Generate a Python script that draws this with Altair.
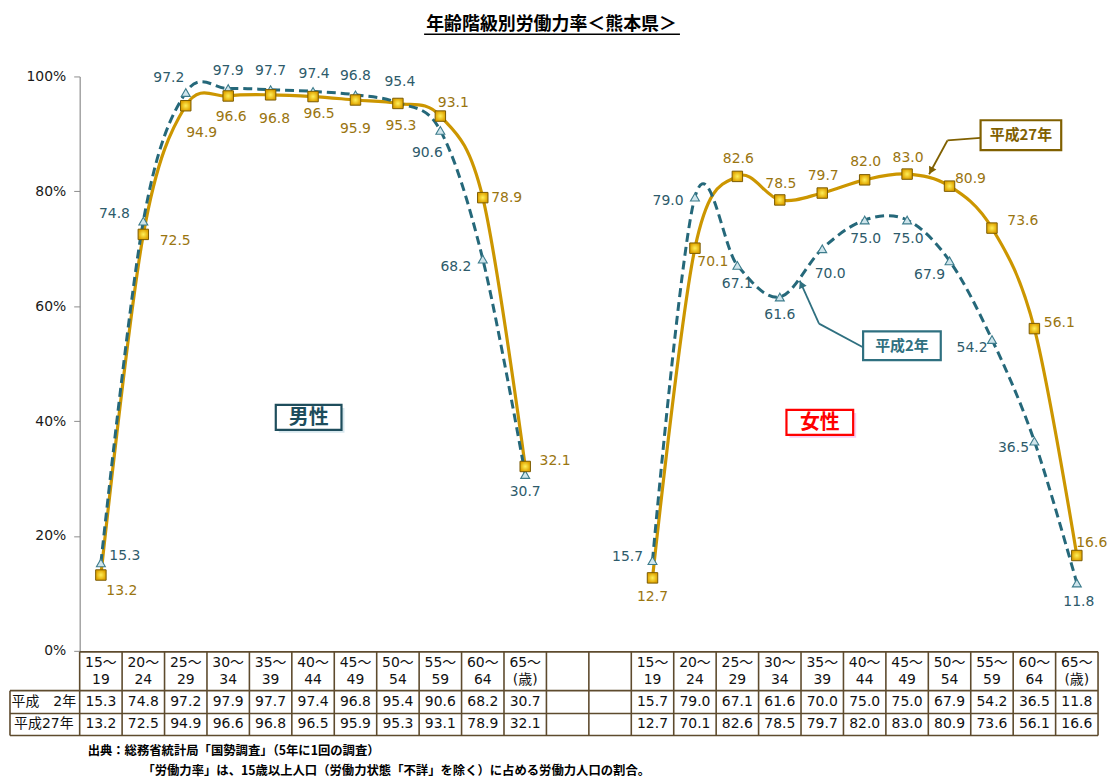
import altair as alt
import pandas as pd

# ---------------- data ----------------
age_top = ["15～", "20～", "25～", "30～", "35～", "40～", "45～", "50～", "55～", "60～", "65～"]
age_bottom = ["19", "24", "29", "34", "39", "44", "49", "54", "59", "64", "(歳)"]
male_h2 = [15.3, 74.8, 97.2, 97.9, 97.7, 97.4, 96.8, 95.4, 90.6, 68.2, 30.7]
male_h27 = [13.2, 72.5, 94.9, 96.6, 96.8, 96.5, 95.9, 95.3, 93.1, 78.9, 32.1]
female_h2 = [15.7, 79.0, 67.1, 61.6, 70.0, 75.0, 75.0, 67.9, 54.2, 36.5, 11.8]
female_h27 = [12.7, 70.1, 82.6, 78.5, 79.7, 82.0, 83.0, 80.9, 73.6, 56.1, 16.6]
row_labels = ["平成\u30002年", "平成27年"]
sex_labels = ["男性", "女性"]
callouts = ["平成27年", "平成2年"]
y_ticks = [0, 20, 40, 60, 80, 100]
title_text = "年齢階級別労働力率＜熊本県＞"
note1 = "出典：総務省統計局「国勢調査」（5年に1回の調査）"
note2 = "「労働力率」は、15歳以上人口（労働力状態「不詳」を除く）に占める労働力人口の割合。"

# ---------------- layout (pixels, relative to plot origin) ----------------
W, H = 1023, 577
NC = 24          # table columns (11 male + 2 blank + 11 female)
F0 = 13          # first female column
PX = W / NC
PY = H / 100.0


def xv(px):
    return px / PX


def yv(py):
    return 100.0 - py / PY


# data-label offsets (dx, dy) in pixels
off_m_h2 = [(24, -7), (-29, -7), (-17, -15), (0, -18), (0, -19), (1, -17), (0, -19), (2, -21), (-13, 23), (-27, 8), (0, 18)]
off_m_h27 = [(21, 16), (32, 7), (16, 27), (3, 21), (4, 24), (6, 18), (0, 29), (3, 23), (13, -13), (24, 0), (30, -5)]
off_f_h2 = [(-25, -4), (-27, 4), (0, 19), (0, 18), (8, 25), (1, 19), (1, 19), (-20, 14), (-20, 9), (-21, 7), (2, 19)]
off_f_h27 = [(0, 19), (18, 14), (1, -17), (1, -16), (1, -17), (1, -18), (1, -16), (21, -7), (31, -7), (25, -6), (15, -13)]

GOLD = "#CC9600"
GOLD_TXT = "#9A7510"
GOLD_DARK = "#806000"
TEAL = "#25687A"
TEAL_TXT = "#2E5B6B"
TEAL_BOX = "#2F7080"
GRID = "#5E4B2E"
NUMFONT = "DejaVu Sans, Noto Sans CJK JP"
JPFONT = "Noto Sans CJK JP"

# ---------------- frames ----------------
rows = []
for sex, start, h2, h27, o2, o27 in [
    ("M", 0, male_h2, male_h27, off_m_h2, off_m_h27),
    ("F", F0, female_h2, female_h27, off_f_h2, off_f_h27),
]:
    for i in range(11):
        x = start + i + 0.5
        for ser, vals, offs in (("H2", h2, o2), ("H27", h27, o27)):
            v = vals[i]
            rows.append(dict(sex=sex, series=ser, x=x, y=v,
                             lx=x + offs[i][0] / PX, ly=v - offs[i][1] / PY,
                             t=f"{v:.1f}"))
pts = pd.DataFrame(rows)
h2 = pts[pts.series == "H2"]
h27 = pts[pts.series == "H27"]

# table texts
trows = []
for start, vals2, vals27 in [(0, male_h2, male_h27), (F0, female_h2, female_h27)]:
    for i in range(11):
        x = start + i + 0.5
        trows.append(dict(x=x, y=yv(589), t=age_top[i]))
        trows.append(dict(x=x, y=yv(606), t=age_bottom[i]))
        trows.append(dict(x=x, y=yv(628.5), t=f"{vals2[i]:.1f}"))
        trows.append(dict(x=x, y=yv(651), t=f"{vals27[i]:.1f}"))
ttext = pd.DataFrame(trows)
rlab = pd.DataFrame(dict(x=[xv(-36)] * 2, y=[yv(628.5), yv(651)], t=row_labels))

LBL = xv(-70)
hlines = pd.DataFrame(dict(
    x=[0, LBL, LBL, LBL], x2=[NC] * 4,
    y=[yv(578), yv(617), yv(640), yv(662)]))
vl_x = list(range(NC + 1)) + [LBL]
vl_y = [yv(578)] * (NC + 1) + [yv(617)]
vlines = pd.DataFrame(dict(x=vl_x, y=vl_y, y2=[yv(662)] * len(vl_x)))

xs = alt.Scale(domain=[0, NC], nice=False, zero=False)
ys = alt.Scale(domain=[0, 100], nice=False, zero=False)
yaxis = alt.Axis(values=y_ticks, labelExpr="datum.value + '%'", grid=False, title=None,
                 domainColor="#8c8c8c", tickColor="#8c8c8c", tickSize=6, domainWidth=1.2,
                 labelFont="DejaVu Sans", labelFontSize=14, labelColor="#1a1a1a", labelPadding=8)


def X(f):
    return alt.X(f"{f}:Q", scale=xs, axis=None)


def Y(f):
    return alt.Y(f"{f}:Q", scale=ys, axis=yaxis)


layers = []

# lines
layers.append(alt.Chart(h27).mark_line(interpolate="cardinal", color=GOLD, strokeWidth=3.2)
              .encode(x=X("x"), y=Y("y"), detail="sex:N"))
layers.append(alt.Chart(h2).mark_line(interpolate="cardinal", color=TEAL, strokeWidth=3,
                                      strokeDash=[9, 5])
              .encode(x=X("x"), y=Y("y"), detail="sex:N"))

# markers
layers.append(alt.Chart(h2).mark_point(shape="triangle-up", filled=True, fill="#CFE5EC",
                                       stroke="#3D7C8C", strokeWidth=1.1, size=80, opacity=1)
              .encode(x=X("x"), y=Y("y")))
layers.append(alt.Chart(h27).mark_square(size=110, opacity=1, stroke="#7A5A00", strokeWidth=1,
                                         fill={"gradient": "radial",
                                               "stops": [{"offset": 0, "color": "#FFF15A"},
                                                         {"offset": 1, "color": "#E0A400"}]})
              .encode(x=X("x"), y=Y("y")))

# data labels
layers.append(alt.Chart(h2).mark_text(font="DejaVu Sans", fontSize=14, color=TEAL_TXT)
              .encode(x=X("lx"), y=Y("ly"), text="t:N"))
layers.append(alt.Chart(h27).mark_text(font="DejaVu Sans", fontSize=14, color=GOLD_TXT)
              .encode(x=X("lx"), y=Y("ly"), text="t:N"))

# table
layers.append(alt.Chart(hlines).mark_rule(color=GRID, strokeWidth=1.6)
              .encode(x=X("x"), x2=alt.X2("x2"), y=Y("y")))
layers.append(alt.Chart(vlines).mark_rule(color=GRID, strokeWidth=1.6)
              .encode(x=X("x"), y=Y("y"), y2=alt.Y2("y2")))
layers.append(alt.Chart(ttext).mark_text(font=NUMFONT, fontSize=14, color="#111111")
              .encode(x=X("x"), y=Y("y"), text="t:N"))
layers.append(alt.Chart(rlab).mark_text(font=NUMFONT, fontSize=14, color="#111111")
              .encode(x=X("x"), y=Y("y"), text="t:N"))

# sex boxes
sexbox = pd.DataFrame(dict(
    x=[xv(197), xv(710)], x2=[xv(263), xv(777)],
    y=[yv(330), yv(335)], y2=[yv(355), yv(360)],
    sx=[xv(200), xv(713)], sx2=[xv(266), xv(780)],
    sy=[yv(333), yv(338)], sy2=[yv(358), yv(363)],
    tx=[xv(230), xv(743.5)], ty=[yv(343), yv(348)],
    t=sex_labels, c=["#1E4D5C", "#FF0000"], sc=["#D3E4EB", "#F6C9F2"]))
layers.append(alt.Chart(sexbox).mark_rect(opacity=0.9)
              .encode(x=X("sx"), x2=alt.X2("sx2"), y=Y("sy"), y2=alt.Y2("sy2"),
                      fill=alt.Fill("sc:N", scale=None)))
layers.append(alt.Chart(sexbox).mark_rect(fill="white", strokeWidth=2.2)
              .encode(x=X("x"), x2=alt.X2("x2"), y=Y("y"), y2=alt.Y2("y2"),
                      stroke=alt.Stroke("c:N", scale=None)))
layers.append(alt.Chart(sexbox).mark_text(font=JPFONT, fontSize=20, fontWeight="bold")
              .encode(x=X("tx"), y=Y("ty"), text="t:N", color=alt.Color("c:N", scale=None)))

# callouts
cb = pd.DataFrame(dict(
    x=[xv(905), xv(787)], x2=[xv(986), xv(865)],
    y=[yv(44), yv(256)], y2=[yv(74), yv(285)],
    tx=[xv(945.5), xv(826)], ty=[yv(59), yv(270.5)],
    t=callouts, c=[GOLD_DARK, TEAL_BOX]))
segs = pd.DataFrame(dict(
    x=[xv(905), xv(871.7), xv(787.3), xv(742.7)],
    x2=[xv(871.7), xv(853.3), xv(742.7), xv(723.3)],
    y=[yv(61.7), yv(64.3), yv(272.3), yv(248.3)],
    y2=[yv(64.3), yv(98.3), yv(248.3), yv(205)],
    c=[GOLD_DARK, GOLD_DARK, TEAL_BOX, TEAL_BOX]))
heads = pd.DataFrame(dict(x=[xv(855.2), xv(725)], y=[yv(94.8), yv(208.7)],
                          a=[208.4, 335.9], c=[GOLD_DARK, TEAL_BOX]))
layers.append(alt.Chart(segs).mark_rule(strokeWidth=1.8)
              .encode(x=X("x"), x2=alt.X2("x2"), y=Y("y"), y2=alt.Y2("y2"),
                      color=alt.Color("c:N", scale=None)))
layers.append(alt.Chart(heads).mark_point(shape="triangle-up", filled=True, size=70, opacity=1)
              .encode(x=X("x"), y=Y("y"), angle=alt.Angle("a:Q", scale=None),
                      color=alt.Color("c:N", scale=None)))
layers.append(alt.Chart(cb).mark_rect(fill="white", strokeWidth=2.2)
              .encode(x=X("x"), x2=alt.X2("x2"), y=Y("y"), y2=alt.Y2("y2"),
                      stroke=alt.Stroke("c:N", scale=None)))
layers.append(alt.Chart(cb).mark_text(font=JPFONT, fontSize=15, fontWeight="bold")
              .encode(x=X("tx"), y=Y("ty"), text="t:N", color=alt.Color("c:N", scale=None)))

# title + underline
tt = pd.DataFrame(dict(x=[xv(474)], y=[yv(-52)], t=[title_text],
                       ux=[xv(346)], ux2=[xv(603)], uy=[yv(-42.5)]))
layers.append(alt.Chart(tt).mark_text(font=JPFONT, fontSize=18, fontWeight="bold", color="#000000")
              .encode(x=X("x"), y=Y("y"), text="t:N"))
layers.append(alt.Chart(tt).mark_rule(color="#000000", strokeWidth=1.5)
              .encode(x=X("ux"), x2=alt.X2("ux2"), y=Y("uy")))

# footnotes
nt = pd.DataFrame(dict(x=[xv(8), xv(63)], y=[yv(678), yv(698)], t=[note1, note2]))
layers.append(alt.Chart(nt).mark_text(font=JPFONT, fontSize=12.4, fontWeight="bold",
                                      color="#000000", align="left")
              .encode(x=X("x"), y=Y("y"), text="t:N"))

chart = alt.layer(*layers).properties(
    width=W, height=H,
    autosize=alt.AutoSizeParams(type="none"),
    padding={"left": 72, "top": 67, "right": 10, "bottom": 129},
    background="white",
).configure_view(strokeWidth=0)

chart.save("out.html", embed_options={"renderer": "svg", "actions": False})
